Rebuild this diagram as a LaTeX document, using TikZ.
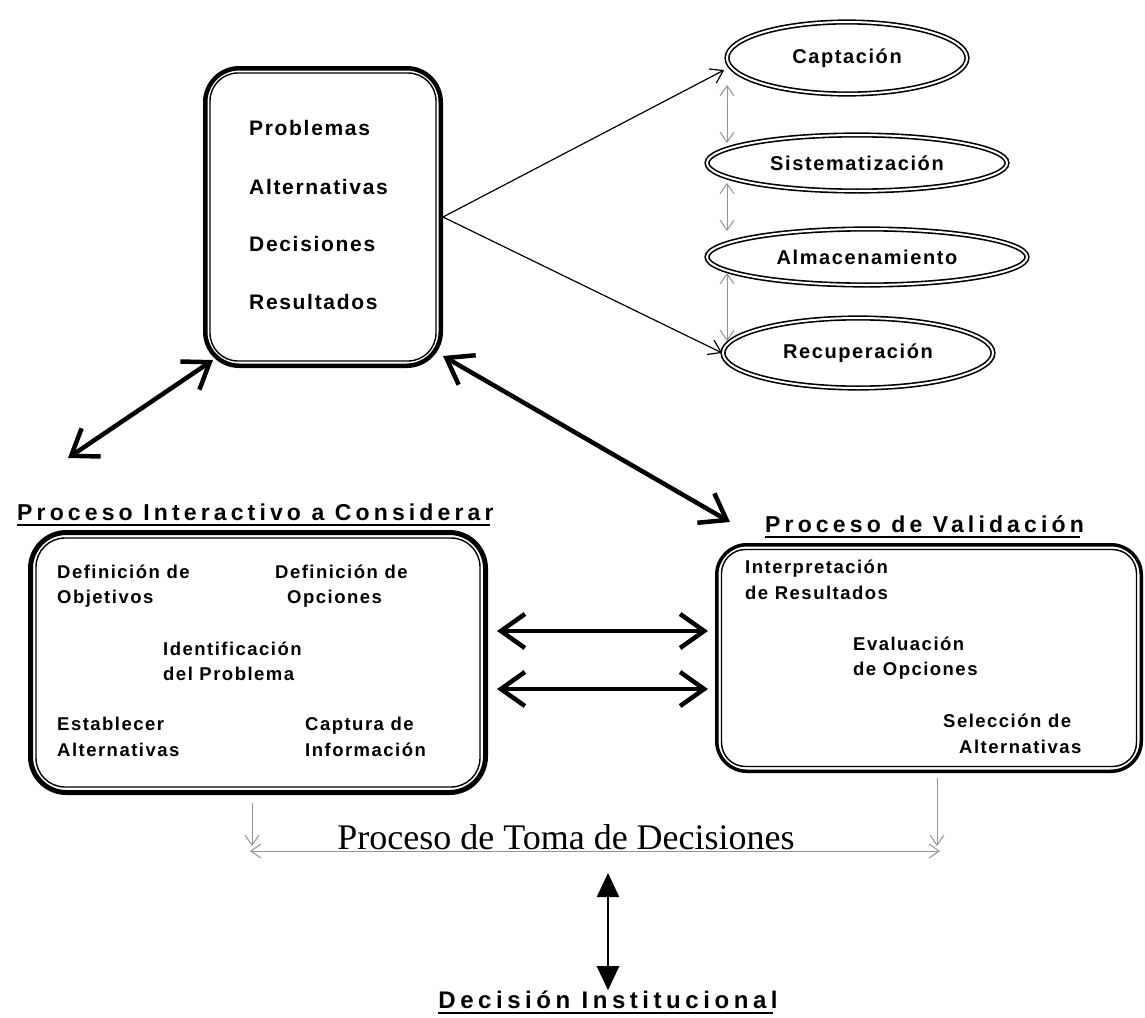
\documentclass[tikz,border=0pt]{standalone}
\usepackage{fontspec}
\usetikzlibrary{arrows.meta,calc,shapes.geometric}
\newfontfamily\sfb[LetterSpace=8]{Liberation Sans}
\newfontfamily\sfh[LetterSpace=18]{Liberation Sans}
\newfontfamily\sfw[LetterSpace=19]{Liberation Sans}
\newfontfamily\tms{Liberation Serif}
\begin{document}
\begin{tikzpicture}[x=1pt,y=-1pt,
  boxA/.style={draw, inner sep=0pt},
  ell/.style={ellipse, draw, double=white, double distance=2pt, line width=1.6pt, inner sep=0pt,
    font=\sfb\bfseries\fontsize{20}{24}\selectfont},
  itm/.style={inner sep=0pt, anchor=base west, font=\sfb\bfseries\fontsize{18.5}{22}\selectfont},
  bigt/.style={inner sep=0pt, anchor=base west, font=\sfb\bfseries\fontsize{21}{25}\selectfont},
  hdg/.style={inner sep=0pt, font=\sfh\bfseries\fontsize{23}{27}\selectfont},
  ulin/.style={line width=2pt},
  thinarr/.style={line width=1.2pt, -{Straight Barb[length=12pt,width=16pt]}},
  grayarr/.style={draw=black!42, line width=1pt, {Straight Barb[length=10pt,width=14pt]}-{Straight Barb[length=10pt,width=14pt]}},
  graydown/.style={draw=black!42, line width=1pt, -{Straight Barb[length=10pt,width=14pt]}},
  thickarr/.style={line width=4.5pt, {Straight Barb[length=24pt,width=34pt]}-{Straight Barb[length=24pt,width=34pt]}},
  triarr/.style={line width=2.5pt, {Triangle[length=24pt,width=22pt]}-{Triangle[length=24pt,width=22pt]}},
]
\useasboundingbox[fill=white] (0,0) rectangle (1145,1017);

% top box
\node[boxA, line width=4.5pt, rounded corners=34pt, minimum width=235.5pt, minimum height=297.5pt] (tb) at (323,217) {};
\draw[line width=1.4pt, rounded corners=28pt] ($(tb.north west)+(7,7)$) rectangle ($(tb.south east)+(-7,-7)$);
\node[bigt] (t1) at (249,135) {Problemas};
\node[bigt] (t2) at (249,194) {Alternativas};
\node[bigt] (t3) at (249,251) {Decisiones};
\node[bigt] (t4) at (249,309) {Resultados};

% ellipses
\node[ell, minimum width=240pt, minimum height=72pt] (cap) at (847,58) {Captación};
\node[ell, minimum width=300pt, minimum height=56pt] (sis) at (857,163) {Sistematización};
\node[ell, minimum width=320pt, minimum height=56pt] (alm) at (867,257) {Almacenamiento};
\node[ell, minimum width=270pt, minimum height=70pt] (rec) at (858,353) {Recuperación};

\draw[thinarr] (tb.east) -- ($(cap.west)+(-2,12)$);
\draw[thinarr] (tb.east) -- (rec.west);

\coordinate (g1a) at (727,85);  \coordinate (g1b) at (727,143);
\coordinate (g2a) at (727,183); \coordinate (g2b) at (727,231);
\coordinate (g3a) at (727,273); \coordinate (g3b) at (727,341);
\draw[grayarr] (g1a) -- (g1b);
\draw[grayarr] (g2a) -- (g2b);
\draw[grayarr] (g3a) -- (g3b);

% left box
\node[hdg, anchor=base west] (h1) at (17,520) {Proceso Interactivo a Considerar};
\draw[ulin] ($(h1.base west)+(0,5)$) -- ($(h1.base east)+(-4,5)$);
\node[boxA, line width=5pt, rounded corners=36pt, minimum width=455pt, minimum height=260pt] (lb) at (258,662.5) {};
\draw[line width=1.4pt, rounded corners=29pt] ($(lb.north west)+(8,8)$) rectangle ($(lb.south east)+(-8,-8)$);
\node[itm] (a1) at (57,578) {Definición de};
\node[itm] (a2) at (57,603) {Objetivos};
\node[itm] (b1) at (275,578) {Definición de};
\node[itm] (b2) at (287,603) {Opciones};
\node[itm] (c1) at (163,655) {Identificación};
\node[itm] (c2) at (163,680) {del Problema};
\node[itm] (d1) at (57,730) {Establecer};
\node[itm] (d2) at (57,756) {Alternativas};
\node[itm] (e1) at (305,730) {Captura de};
\node[itm] (e2) at (305,756) {Información};

% right box
\node[hdg, anchor=base west] (h2) at (765,532) {Proceso de Validación};
\draw[ulin] ($(h2.base west)+(0,5)$) -- ($(h2.base east)+(-4,5)$);
\node[boxA, line width=3.5pt, rounded corners=30pt, minimum width=424.5pt, minimum height=226.5pt] (rb) at (929,658) {};
\draw[line width=1.4pt, rounded corners=24pt] ($(rb.north west)+(6.5,6.5)$) rectangle ($(rb.south east)+(-6.5,-6.5)$);
\node[itm] (r1) at (745,573) {Interpretación};
\node[itm] (r2) at (745,599) {de Resultados};
\node[itm] (s1) at (853,650) {Evaluación};
\node[itm] (s2) at (853,675) {de Opciones};
\node[itm] (u1) at (943,727) {Selección de};
\node[itm] (u2) at (959,753) {Alternativas};

% thick arrows
\draw[thickarr] ($(tb.south west)+(10,-8)$) -- ($(lb.north west)+(40,-72)$);
\draw[thickarr] ($(tb.south east)+(0,-12)$) -- ($(rb.north west)+(15,-21)$);
\draw[thickarr] ($(lb.east)+(9,-31.5)$) -- ($(rb.west)+(-7,-27)$);
\draw[thickarr] ($(lb.east)+(9,26.5)$) -- ($(rb.west)+(-7,31)$);

% decision process
\coordinate (hl) at (250,851);
\coordinate (hr) at (940,851);
\draw[grayarr] (hl) -- (hr);
\node[inner sep=0pt, anchor=base, font=\tms\fontsize{36}{40}\selectfont] (tm) at (566,849) {Proceso de Toma de Decisiones};
\draw[graydown] ($(lb.south -| hl)+(2,8)$) -- ($(hl)+(2,-5)$);
\draw[graydown] ($(rb.south -| hr)+(-3,5)$) -- ($(hr)+(-3,-5)$);

\node[inner sep=0pt, anchor=base, font=\sfw\bfseries\fontsize{24}{28}\selectfont] (di) at (608,1008) {Decisión Institucional};
\draw[ulin] ($(di.base west)+(0,5)$) -- ($(di.base east)+(-5,5)$);
\coordinate (va) at (608,873);
\draw[triarr] (va) -- (va |- di.north);
\end{tikzpicture}
\end{document}
